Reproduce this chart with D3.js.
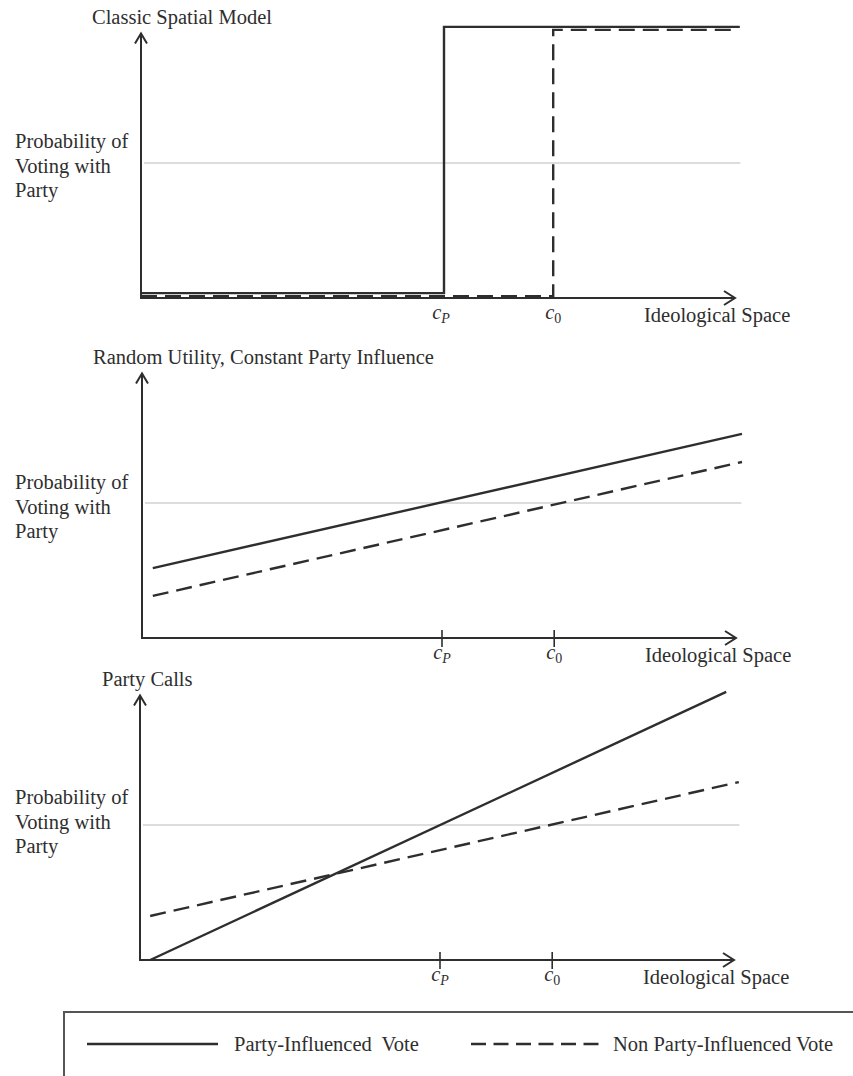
<!DOCTYPE html>
<html>
<head>
<meta charset="utf-8">
<script src="https://cdn.jsdelivr.net/npm/d3@7"></script>
<style>
  body { margin: 0; background: #fff; }
  svg { display: block; font-family: "Liberation Serif", "Times New Roman", serif; }
</style>
</head>
<body>
<div id="chart"></div>
<script>
// chart data (x: ideological space 0..1, y: probability 0..1)
const panelTitles = ['Classic Spatial Model', 'Random Utility, Constant Party Influence', 'Party Calls'];
const yLabelLines = ['Probability of', 'Voting with', 'Party'];
const xAxisLabel = 'Ideological Space';
const cutPointNames = ['P', '0'];
const cutPointValues = [0.5, 0.687];
const showTicks = [false, true, true];
const partyVote = [
    [[0, 0.018], [0.505, 0.018], [0.505, 1.004], [0.998, 1.004]],
    [[0.018, 0.259], [1.0, 0.756]],
    [[0.017, 0.0], [0.977, 0.993]]
];
const nonPartyVote = [
    [[0, 0.007], [0.687, 0.007], [0.687, 0.993], [0.985, 0.993]],
    [[0.018, 0.156], [1.0, 0.652]],
    [[0.017, 0.163], [0.998, 0.659]]
];
const legendLabels = ['Party-Influenced  Vote', 'Non Party-Influenced Vote'];

const width = 853, height = 1076;
const ink = '#2e2e2e';
const fontSize = 20.5;
const dash = '16,8';

const svg = d3.select('#chart').append('svg')
    .attr('width', width)
    .attr('height', height);

// panel placement (pixel origin of each small plot)
const layout = [
    { x0: 141, y0: 298, titleX: 92, labelTop: -150 },
    { x0: 142, y0: 638, titleX: 93, labelTop: -149 },
    { x0: 140, y0: 960, titleX: 102, labelTop: -156 }
];

layout.forEach((p, i) => {
    const x = d3.scaleLinear().domain([0, 1]).range([p.x0, p.x0 + 600]);
    const y = d3.scaleLinear().domain([0, 1]).range([p.y0, p.y0 - 270]);
    const g = svg.append('g');

    // reference line at 0.5
    g.append('line')
        .attr('x1', x(0.005)).attr('x2', x(0.999))
        .attr('y1', y(0.5)).attr('y2', y(0.5))
        .attr('stroke', '#d2d2d2').attr('stroke-width', 1.6);

    // y axis with open arrow
    const yTop = y(0.98);
    g.append('line')
        .attr('x1', x(0)).attr('x2', x(0))
        .attr('y1', y(0) + 1).attr('y2', yTop)
        .attr('stroke', ink).attr('stroke-width', 2);
    g.append('path')
        .attr('d', `M${x(0) - 6},${yTop + 10}L${x(0)},${yTop}L${x(0) + 6},${yTop + 10}`)
        .attr('fill', 'none').attr('stroke', ink).attr('stroke-width', 2);

    // x axis with open arrow
    const xEnd = x(0.99);
    g.append('line')
        .attr('x1', x(0) - 1).attr('x2', xEnd)
        .attr('y1', y(0)).attr('y2', y(0))
        .attr('stroke', ink).attr('stroke-width', 2);
    g.append('path')
        .attr('d', `M${xEnd - 11},${y(0) - 7}L${xEnd},${y(0)}L${xEnd - 11},${y(0) + 7}`)
        .attr('fill', 'none').attr('stroke', ink).attr('stroke-width', 2);

    if (showTicks[i]) {
        g.selectAll('line.tick')
            .data(cutPointValues)
            .enter().append('line')
            .attr('class', 'tick')
            .attr('x1', d => x(d)).attr('x2', d => x(d))
            .attr('y1', y(0) - 8).attr('y2', y(0) + 9)
            .attr('stroke', ink).attr('stroke-width', 1.6);
    }

    // cut point labels c_P, c_0
    cutPointNames.forEach((name, k) => {
        const t = g.append('text')
            .attr('x', x(cutPointValues[k]))
            .attr('y', y(0) + 21)
            .attr('text-anchor', 'middle')
            .attr('fill', ink)
            .attr('font-size', fontSize);
        t.append('tspan').attr('font-style', 'italic').text('c');
        t.append('tspan')
            .attr('font-size', 14)
            .attr('dy', 4)
            .attr('font-style', name === 'P' ? 'italic' : 'normal')
            .text(name);
    });

    g.append('text')
        .attr('x', p.x0 + 503)
        .attr('y', y(0) + 24)
        .attr('fill', ink)
        .attr('font-size', fontSize)
        .text(xAxisLabel);

    g.append('text')
        .attr('x', p.titleX)
        .attr('y', y(0) - 274)
        .attr('fill', ink)
        .attr('font-size', fontSize)
        .text(panelTitles[i]);

    g.append('text')
        .attr('fill', ink)
        .attr('font-size', fontSize)
        .selectAll('tspan')
        .data(yLabelLines)
        .enter().append('tspan')
        .attr('x', 15)
        .attr('y', (d, k) => y(0) + p.labelTop + k * 24.5)
        .text(d => d);

    const line = d3.line().x(d => x(d[0])).y(d => y(d[1]));

    g.append('path')
        .datum(nonPartyVote[i])
        .attr('d', line)
        .attr('fill', 'none')
        .attr('stroke', ink)
        .attr('stroke-width', 2.4)
        .attr('stroke-dasharray', dash);

    g.append('path')
        .datum(partyVote[i])
        .attr('d', line)
        .attr('fill', 'none')
        .attr('stroke', ink)
        .attr('stroke-width', 2.4);
});

// legend
const legend = svg.append('g');
legend.append('rect')
    .attr('x', 64).attr('y', 1012)
    .attr('width', 900).attr('height', 200)
    .attr('fill', 'none')
    .attr('stroke', '#555').attr('stroke-width', 2);

const legendItems = [
    { x1: 87, x2: 218, tx: 234, dashed: false },
    { x1: 471, x2: 606, tx: 613, dashed: true }
];
legendItems.forEach((it, k) => {
    legend.append('line')
        .attr('x1', it.x1).attr('x2', it.x2)
        .attr('y1', 1044).attr('y2', 1044)
        .attr('stroke', ink).attr('stroke-width', 2.4)
        .attr('stroke-dasharray', it.dashed ? '15,7.5' : null);
    legend.append('text')
        .attr('x', it.tx).attr('y', 1051)
        .attr('fill', ink)
        .attr('font-size', fontSize)
        .attr('xml:space', 'preserve')
        .style('white-space', 'pre')
        .text(legendLabels[k]);
});
</script>
</body>
</html>
